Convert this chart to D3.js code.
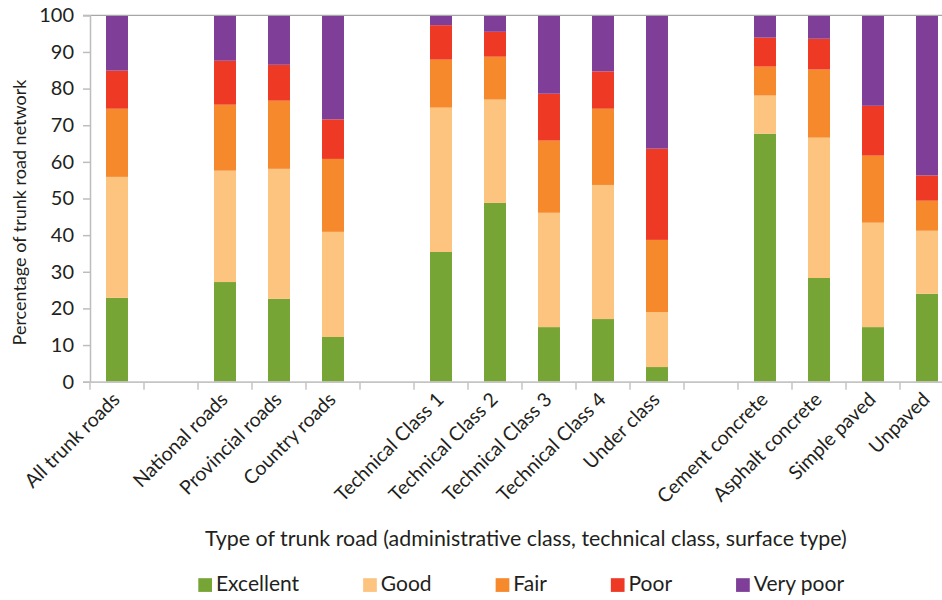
<!DOCTYPE html>
<html>
<head>
<meta charset="utf-8">
<script src="https://cdn.jsdelivr.net/npm/d3@7"></script>
<style>
  body { margin: 0; background: #fff; }
  text { font-family: Lato, "Open Sans", sans-serif; fill: #231f20; }
</style>
</head>
<body>
<div class="chart"></div>
<script>
const WIDTH = 942;
const HEIGHT = 600;
const LEFT = 90;
const TOP = 15.3;
const PLOT_H = 366.4;
const SLOT = 54;

var categories = ["All trunk roads", "National roads", "Provincial roads", "Country roads",
    "Technical Class 1", "Technical Class 2", "Technical Class 3", "Technical Class 4", "Under class",
    "Cement concrete", "Asphalt concrete", "Simple paved", "Unpaved"];
// an empty slot follows each of these
var gapAfter = ["All trunk roads", "Country roads", "Under class"];

var seriesNames = ["Excellent", "Good", "Fair", "Poor", "Very poor"];
var excellent = [22.9, 27.2, 22.6, 12.2, 35.4, 48.8, 14.9, 17.1, 4.0, 67.7, 28.3, 14.9, 24.0];
var good      = [33.0, 30.4, 35.5, 28.7, 39.4, 28.2, 31.2, 36.6, 15.0, 10.4, 38.3, 28.5, 17.2];
var fair      = [18.6, 18.0, 18.6, 19.9, 13.1, 11.7, 19.7, 20.8, 19.7, 7.9, 18.6, 18.3, 8.2];
var poor      = [10.4, 12.0, 9.8, 10.8, 9.4, 6.8, 12.8, 10.2, 24.9, 7.9, 8.4, 13.6, 6.9];
var veryPoor  = [15.1, 12.4, 13.5, 28.4, 2.7, 4.5, 21.4, 15.3, 36.4, 6.1, 6.4, 24.7, 43.7];
var colors = ["#76a535", "#fdc47f", "#f5892c", "#ee3a24", "#7f3f98"];
var yTicks = [0, 10, 20, 30, 40, 50, 60, 70, 80, 90, 100];

var seriesValues = [excellent, good, fair, poor, veryPoor];
var rows = categories.map(function (c, i) {
    var row = {category: c};
    seriesNames.forEach(function (s, j) { row[s] = seriesValues[j][i]; });
    return row;
});

var slots = [];
categories.forEach(function (c, i) {
    slots.push(c);
    if (gapAfter.indexOf(c) >= 0) slots.push("gap" + i);
});

var x = d3.scaleBand().domain(slots)
    .range([LEFT, LEFT + slots.length * SLOT])
    .paddingInner(0.593).paddingOuter(0.2965);
var y = d3.scaleLinear().domain([0, 100]).range([TOP + PLOT_H, TOP]);
var color = d3.scaleOrdinal().domain(seriesNames).range(colors);

var svg = d3.select('.chart').append('svg')
    .attr('width', WIDTH)
    .attr('height', HEIGHT);

// bars
var stacked = d3.stack().keys(seriesNames)(rows);
svg.append('g').selectAll('g')
    .data(stacked)
    .join('g')
    .attr('fill', function (s) { return color(s.key); })
    .selectAll('rect')
    .data(function (s) { return s; })
    .join('rect')
    .attr('x', function (d) { return x(d.data.category); })
    .attr('width', x.bandwidth())
    .attr('y', function (d) { return y(d[1]); })
    .attr('height', function (d) { return y(d[0]) - y(d[1]); });

// top border line
svg.append('line')
    .attr('x1', LEFT - 7).attr('x2', WIDTH)
    .attr('y1', y(100)).attr('y2', y(100))
    .attr('stroke', '#a6a6a6').attr('stroke-width', 1.3);

// y axis
var yAxis = d3.axisLeft(y).tickValues(yTicks).tickSize(7).tickPadding(9);
var yAxisG = svg.append('g').attr('transform', 'translate(' + LEFT + ',0)').call(yAxis);
yAxisG.select('.domain').attr('stroke', '#bdbdbd').attr('stroke-width', 1.5);
yAxisG.selectAll('.tick line').attr('stroke', '#bdbdbd').attr('stroke-width', 1.5);
yAxisG.selectAll('.tick text').attr('font-size', 20).attr('font-family', 'Lato').attr('fill', '#231f20');

// x axis
var xAxis = d3.axisBottom(x).tickSize(0).tickFormat(function (d) {
    return d.indexOf('gap') === 0 ? '' : d;
});
var xAxisG = svg.append('g').attr('transform', 'translate(0,' + y(0) + ')').call(xAxis);
xAxisG.select('.domain').attr('stroke', '#c4c4c4').attr('stroke-width', 1.8);
xAxisG.selectAll('.tick text')
    .attr('font-size', 19.5).attr('font-family', 'Lato').attr('fill', '#231f20')
    .attr('text-anchor', 'end')
    .attr('y', 0).attr('dy', 0)
    .attr('transform', 'translate(4,19) rotate(-45)');

// slot boundary ticks
xAxisG.selectAll('line.sep')
    .data(d3.range(slots.length + 1))
    .join('line')
    .attr('class', 'sep')
    .attr('x1', function (i) { return LEFT + i * x.step(); })
    .attr('x2', function (i) { return LEFT + i * x.step(); })
    .attr('y1', 0).attr('y2', 8)
    .attr('stroke', '#c4c4c4').attr('stroke-width', 1.5);

// axis titles
svg.append('text')
    .attr('transform', 'translate(26,' + (TOP + PLOT_H / 2 + 14) + ') rotate(-90)')
    .attr('text-anchor', 'middle')
    .attr('font-size', 18)
    .text('Percentage of trunk road network');

svg.append('text')
    .attr('x', 205).attr('y', 546)
    .attr('font-size', 21.4)
    .text('Type of trunk road (administrative class, technical class, surface type)');

// legend
var legend = svg.append('g').attr('transform', 'translate(198.3,585)');
var lx = 0;
seriesNames.forEach(function (s) {
    var item = legend.append('g').attr('transform', 'translate(' + lx + ',0)');
    item.append('rect').attr('x', 0).attr('y', -6.8).attr('width', 13.7).attr('height', 13.7)
        .attr('fill', color(s));
    var t = item.append('text').attr('x', 17.7).attr('y', 6).attr('font-size', 21).text(s);
    lx += 17.7 + t.node().getComputedTextLength() + 64;
});
</script>
</body>
</html>
